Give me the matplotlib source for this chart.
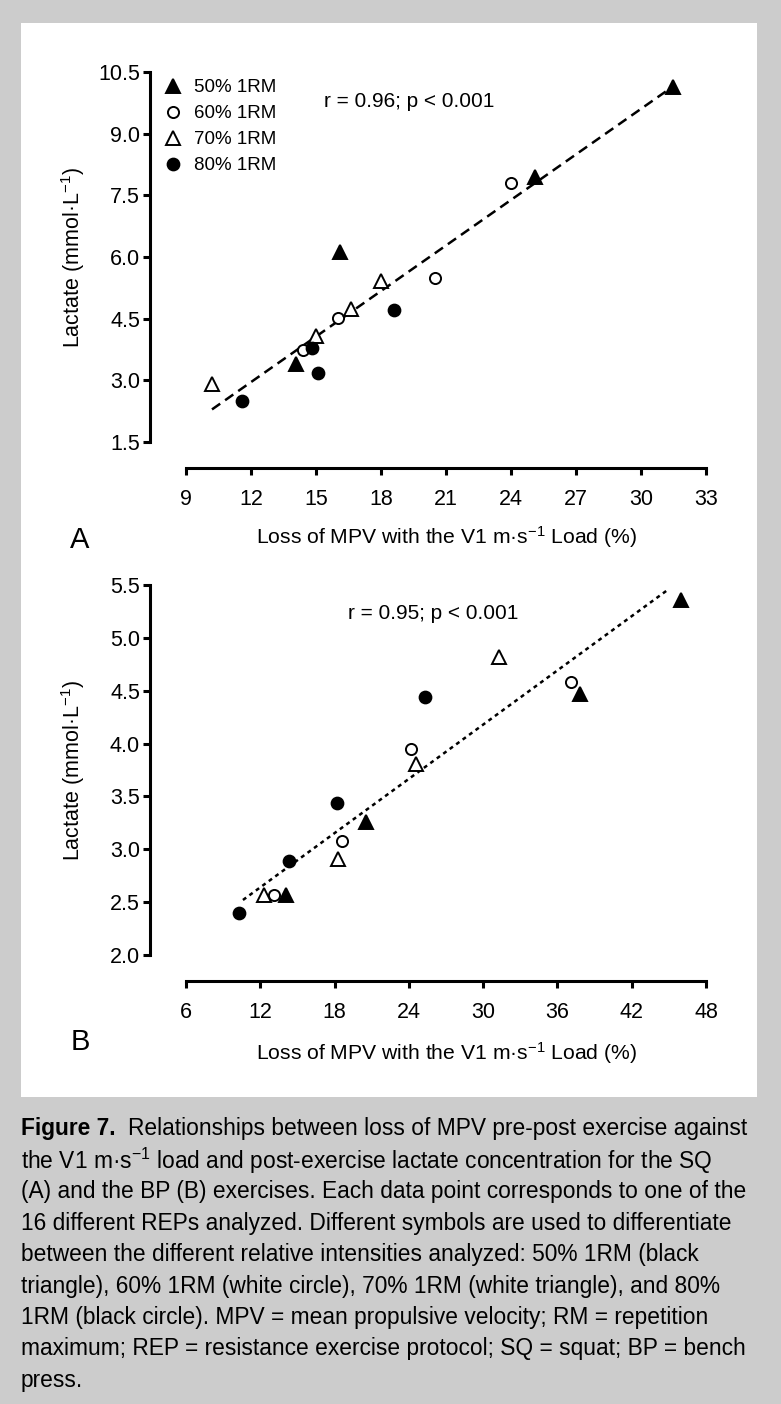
import matplotlib
matplotlib.use('Agg')
import matplotlib.pyplot as plt
from matplotlib.patches import Rectangle
import numpy as np

plt.rcParams['font.family'] = ['Liberation Sans', 'DejaVu Sans']
plt.rcParams['mathtext.default'] = 'regular'

# ---- data ----
group_labels = ['50% 1RM', '60% 1RM', '70% 1RM', '80% 1RM']

# (A) squat
sq_50_x = [16.1, 14.1, 25.1, 31.5]
sq_50_y = [6.11, 3.39, 7.94, 10.13]
sq_60_x = [24.0, 20.5, 16.0, 14.4]
sq_60_y = [7.79, 5.50, 4.52, 3.74]
sq_70_x = [10.2, 15.0, 16.6, 18.0]
sq_70_y = [2.91, 4.07, 4.74, 5.41]
sq_80_x = [11.6, 14.8, 15.1, 18.6]
sq_80_y = [2.50, 3.78, 3.17, 4.70]
sq_fit_range = [10.2, 31.4]

# (B) bench press
bp_50_x = [14.1, 20.5, 37.8, 46.0]
bp_50_y = [2.57, 3.26, 4.47, 5.36]
bp_60_x = [13.1, 18.6, 24.2, 37.1]
bp_60_y = [2.57, 3.08, 3.95, 4.58]
bp_70_x = [12.3, 18.3, 24.6, 31.3]
bp_70_y = [2.57, 2.91, 3.81, 4.82]
bp_80_x = [10.3, 14.3, 18.2, 25.3]
bp_80_y = [2.40, 2.89, 3.44, 4.44]
bp_fit_range = [10.6, 45.0]

sq_xticks = [9, 12, 15, 18, 21, 24, 27, 30, 33]
sq_yticks = [1.5, 3.0, 4.5, 6.0, 7.5, 9.0, 10.5]
bp_xticks = [6, 12, 18, 24, 30, 36, 42, 48]
bp_yticks = [2.0, 2.5, 3.0, 3.5, 4.0, 4.5, 5.0, 5.5]

caption_lines = [
    'Relationships between loss of MPV pre-post exercise against',
    'the V1 m·s$^{-1}$ load and post-exercise lactate concentration for the SQ',
    '(A) and the BP (B) exercises. Each data point corresponds to one of the',
    '16 different REPs analyzed. Different symbols are used to differentiate',
    'between the different relative intensities analyzed: 50% 1RM (black',
    'triangle), 60% 1RM (white circle), 70% 1RM (white triangle), and 80%',
    '1RM (black circle). MPV = mean propulsive velocity; RM = repetition',
    'maximum; REP = resistance exercise protocol; SQ = squat; BP = bench',
    'press.',
]

W, H = 781, 1404
MARKERS = [('^', 'black', 10), ('o', 'white', 8), ('^', 'white', 10), ('o', 'black', 8.5)]


def px_box(left, top, right, bottom):
    return [left / W, 1 - bottom / H, (right - left) / W, (bottom - top) / H]


def draw_panel(ax, xs, ys, fit_range, xticks, yticks, dash, rtext, rpos):
    all_x = np.concatenate(xs)
    all_y = np.concatenate(ys)
    slope, intercept = np.polyfit(all_x, all_y, 1)
    fx = np.array(fit_range)
    ax.plot(fx, slope * fx + intercept, color='black', lw=1.8, dashes=dash, zorder=2)

    for (m, fc, ms), x, y, lab in zip(MARKERS, xs, ys, group_labels):
        ax.plot(x, y, linestyle='none', marker=m, ms=ms, mfc=fc, mec='black',
                mew=1.4, zorder=3, clip_on=False, label=lab)

    ax.set_xlim(xticks[0], xticks[-1])
    ax.set_ylim(yticks[0], yticks[-1])
    ax.set_xticks(xticks)
    ax.set_yticks(yticks)
    ax.set_yticklabels(['%.1f' % v for v in yticks])
    ax.set_facecolor('none')
    for s in ['top', 'right']:
        ax.spines[s].set_visible(False)
    ax.spines['left'].set_position(('outward', 26))
    ax.spines['bottom'].set_position(('outward', 19))
    for s in ['left', 'bottom']:
        ax.spines[s].set_linewidth(2.2)
    ax.tick_params(direction='out', length=5, width=2.2, labelsize=15.5)
    ax.tick_params(axis='x', pad=10)
    ax.tick_params(axis='y', pad=2.2)

    ax.set_xlabel('Loss of MPV with the V1 m·s$^{-1}$ Load (%)', fontsize=15.2)
    ax.xaxis.label.set_va('center')
    ax.set_ylabel('Lactate (mmol·L$^{-1}$)', fontsize=15.5)
    ax.yaxis.label.set_va('center')
    ax.yaxis.set_label_coords(-0.2167, 0.5)

    ax.text(rpos[0], rpos[1], rtext, transform=ax.transAxes, fontsize=15,
            ha='center', va='center')


fig = plt.figure(figsize=(W / 100, H / 100), dpi=100, facecolor='#cccccc')
fig.add_artist(Rectangle((21 / W, 1 - 1097 / H), 736 / W, 1074 / H,
                         transform=fig.transFigure, facecolor='white',
                         edgecolor='none', zorder=-5))

# panel A
ax_a = fig.add_axes(px_box(186, 72, 706, 442))
draw_panel(ax_a, [sq_50_x, sq_60_x, sq_70_x, sq_80_x],
           [sq_50_y, sq_60_y, sq_70_y, sq_80_y], sq_fit_range,
           sq_xticks, sq_yticks, (4, 2.4), 'r = 0.96; p < 0.001', (0.430, 0.920))
ax_a.xaxis.set_label_coords(0.502, -0.257)
ax_a.legend(loc='upper left', bbox_to_anchor=(164 / W, 1 - 79 / H),
            bbox_transform=fig.transFigure, frameon=False, fontsize=13.5,
            handlelength=1.0, handletextpad=0.6, labelspacing=0.48,
            borderpad=0, borderaxespad=0, numpoints=1)
fig.text(80 / W, 1 - 540 / H, 'A', fontsize=21, ha='center', va='center')

# panel B
ax_b = fig.add_axes(px_box(186, 585, 706, 955))
draw_panel(ax_b, [bp_50_x, bp_60_x, bp_70_x, bp_80_x],
           [bp_50_y, bp_60_y, bp_70_y, bp_80_y], bp_fit_range,
           bp_xticks, bp_yticks, (1.6, 1.6), 'r = 0.95; p < 0.001', (0.4756, 0.9235))
ax_b.xaxis.set_label_coords(0.502, -0.264)
fig.text(80 / W, 1 - 1042 / H, 'B', fontsize=21, ha='center', va='center')

# caption
cap_size = 14
x0 = 21 / W
line_y = [1 - (1129 + 31.4 * i) / H for i in range(len(caption_lines))]
head = fig.text(x0, line_y[0], 'Figure 7.', fontsize=cap_size, fontweight='bold',
                ha='left', va='center')
lines = []
for i, t in enumerate(caption_lines):
    lines.append(fig.text(x0, line_y[i], t, fontsize=cap_size, ha='left', va='center'))

renderer = fig.canvas.get_renderer()
head_w = head.get_window_extent(renderer).width
widths = [l.get_window_extent(renderer).width for l in lines]
widths[0] += head_w + 14
scale = 735 / max(widths)
head.set_fontsize(cap_size * scale)
for l in lines:
    l.set_fontsize(cap_size * scale)
head_w = head.get_window_extent(renderer).width
lines[0].set_x((21 + head_w + 12) / W)

fig.savefig('out.png', dpi=100, facecolor=fig.get_facecolor())
